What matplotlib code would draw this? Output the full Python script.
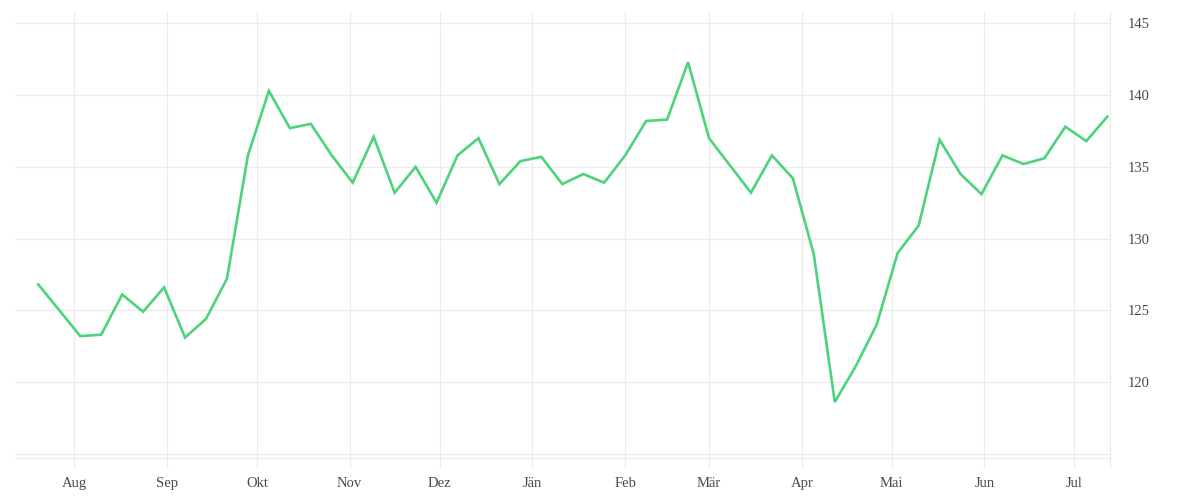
import matplotlib
matplotlib.use("Agg")
import matplotlib.pyplot as plt
import pandas as pd

# weekly values, Jul 2022 - Jul 2023
start_date = "2022-07-20"
values = [126.8, 125.0, 123.2, 123.3, 126.1, 124.9, 126.6, 123.1, 124.4, 127.2,
          135.8, 140.3, 137.7, 138.0, 135.8, 133.9, 137.1, 133.2, 135.0, 132.5,
          135.8, 137.0, 133.8, 135.4, 135.7, 133.8, 134.5, 133.9, 135.8, 138.2,
          138.3, 142.3, 137.0, 135.1, 133.2, 135.8, 134.2, 128.9, 118.6, 121.1,
          124.0, 129.0, 130.9, 136.9, 134.5, 133.1, 135.8, 135.2, 135.6, 137.8,
          136.8, 138.5]
month_labels = ["Aug", "Sep", "Okt", "Nov", "Dez", "Jän", "Feb", "Mär",
                "Apr", "Mai", "Jun", "Jul"]
y_ticks = [115, 120, 125, 130, 135, 140, 145]

dates = pd.date_range(start_date, periods=len(values), freq="7D")
month_starts = pd.date_range("2022-08-01", periods=len(month_labels), freq="MS")

grid_col = "#ebebeb"
text_col = "#4a4a4a"

fig = plt.figure(figsize=(12, 5), dpi=100)
ax = fig.add_axes([0.0125, 0.084, 0.9125, 0.892])

ax.plot(dates, values, color="#4cd37b", linewidth=1.9, solid_joinstyle="miter")

ax.set_xlim(pd.Timestamp("2022-07-12 05:00"), pd.Timestamp("2023-07-12 22:00"))
ax.set_ylim(114.7, 145.8)

ax.set_xticks(month_starts)
ax.set_xticklabels(month_labels)
ax.set_yticks(y_ticks)
ax.set_yticklabels(["" if t == 115 else str(t) for t in y_ticks])
ax.yaxis.tick_right()

ax.grid(True, color=grid_col, linewidth=0.8)
ax.set_axisbelow(True)

for side in ["top", "left"]:
    ax.spines[side].set_visible(False)
ax.spines["bottom"].set_color(grid_col)
ax.spines["right"].set_color(grid_col)
ax.spines["bottom"].set_linewidth(0.8)
ax.spines["right"].set_linewidth(0.8)
# right edge line runs down past the axis like the tick marks
ax.plot([1, 1], [-0.022, 0], transform=ax.transAxes, color=grid_col,
        linewidth=0.8, clip_on=False)

ax.tick_params(axis="x", length=7.5, width=0.8, color=grid_col, pad=6,
               labelsize=10.5, labelcolor=text_col)
ax.tick_params(axis="y", length=0, pad=13, labelsize=10.5, labelcolor=text_col)
for lab in ax.get_xticklabels() + ax.get_yticklabels():
    lab.set_family("Liberation Serif")

fig.savefig("out.png", dpi=100)
